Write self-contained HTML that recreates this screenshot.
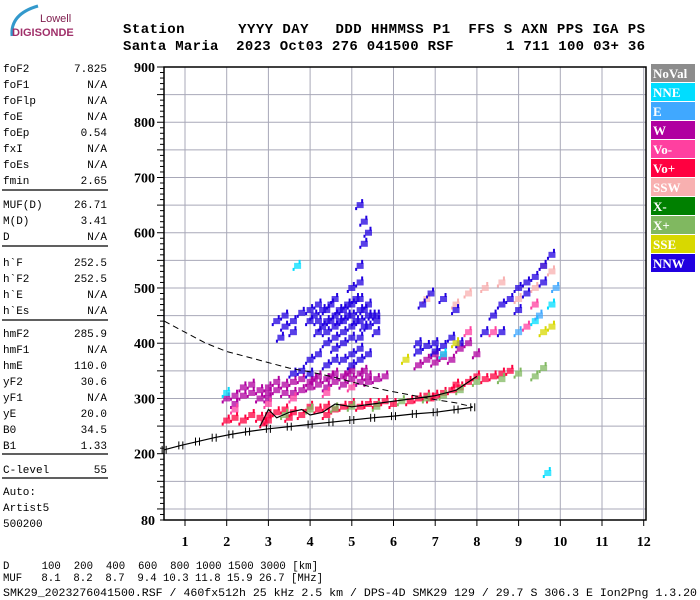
<!DOCTYPE html>
<html><head><meta charset="utf-8"><style>
body{margin:0;width:700px;height:600px;background:#fff;overflow:hidden;font-family:"Liberation Mono",monospace}
svg{position:absolute;left:0;top:0}
</style></head><body>
<svg width="700" height="600" xmlns="http://www.w3.org/2000/svg">
<g>
<path d="M12,36 Q10,14 38,6" stroke="#3399cc" stroke-width="3" fill="none"/>
<text x="40" y="22" font-family="Liberation Sans,sans-serif" font-size="11" fill="#802050">Lowell</text>
<text x="12" y="36" font-family="Liberation Sans,sans-serif" font-size="11" fill="#a0306a" font-weight="bold">DIGISONDE</text>
</g>
<g font-family="Liberation Mono,monospace" font-weight="bold" font-size="14">
<text x="123" y="33" xml:space="preserve" textLength="522" lengthAdjust="spacing">Station      YYYY DAY   DDD HHMMSS P1  FFS S AXN PPS IGA PS</text>
<text x="123" y="50" xml:space="preserve" textLength="522" lengthAdjust="spacing">Santa Maria  2023 Oct03 276 041500 RSF      1 711 100 03+ 36</text>
</g>
<g id="left" font-family="Liberation Mono,monospace" font-size="11"></g>
<g id="plot"></g>
<g id="legend"></g>
<g font-family="Liberation Mono,monospace" font-size="11">
<text x="3" y="569" xml:space="preserve" textLength="315" lengthAdjust="spacingAndGlyphs">D     100  200  400  600  800 1000 1500 3000 [km]</text>
<text x="3" y="581" xml:space="preserve" textLength="320" lengthAdjust="spacingAndGlyphs">MUF   8.1  8.2  8.7  9.4 10.3 11.8 15.9 26.7 [MHz]</text>
<text x="3" y="596" xml:space="preserve" font-size="11" textLength="694" lengthAdjust="spacingAndGlyphs">SMK29_2023276041500.RSF / 460fx512h 25 kHz 2.5 km / DPS-4D SMK29 129 / 29.7 S 306.3 E Ion2Png 1.3.20</text>
</g>
</svg>
<script>
const NS="http://www.w3.org/2000/svg";
const paramNames=["foF2","foF1","foFlp","foE","foEp","fxI","foEs","fmin","MUF(D)","M(D)","D","h`F","h`F2","h`E","h`Es","hmF2","hmF1","hmE","yF2","yF1","yE","B0","B1","C-level"];
const paramValues=["7.825","N/A","N/A","N/A","0.54","N/A","N/A","2.65","26.71","3.41","N/A","252.5","252.5","N/A","N/A","285.9","N/A","110.0","30.6","N/A","20.0","34.5","1.33","55"];
const freqTicks=[1,2,3,4,5,6,7,8,9,10,11,12];
const heightTicks=[80,200,300,400,500,600,700,800,900];
const legendNames=["NoVal","NNE","E","W","Vo-","Vo+","SSW","X-","X+","SSE","NNW"];
const legendColors=["#8c8c8c","#00ddff","#40a8ff","#b000a0","#ff40a0","#ff0040","#f8b0b0","#008000","#80b860","#d8d800","#2000e0"];
const nnwPoints=[[3.2,440],[3.4,430],[3.4,450],[3.6,440],[3.6,420],[3.8,455],[3.3,410],[4.0,440],[4.0,460],[4.2,440],[4.2,420],[4.2,470],[4.4,440],[4.4,460],[4.4,420],[4.6,450],[4.6,430],[4.6,480],[4.8,440],[4.8,460],[4.8,420],[5.0,450],[5.0,430],[5.0,470],[5.0,500],[5.2,440],[5.2,460],[5.2,480],[5.2,510],[5.2,540],[5.4,450],[5.4,430],[5.4,470],[5.6,440],[5.6,450],[4.0,370],[4.2,380],[4.4,360],[4.6,370],[4.6,390],[4.8,370],[4.8,400],[5.0,380],[5.0,360],[5.2,390],[5.2,370],[5.2,410],[5.4,380],[4.4,400],[3.8,350],[3.6,345],[4.0,345],[5.0,410],[4.6,410],[5.3,580],[5.3,620],[5.2,650],[5.4,600],[5.6,420],[6.6,385],[6.8,395],[7.0,385],[7.2,395],[6.6,400],[7.0,400],[7.4,410],[7.6,400],[6.7,470],[6.9,490],[7.2,480],[7.5,460],[8.2,420],[8.4,450],[8.6,470],[8.8,480],[9.0,500],[9.2,510],[9.4,520],[9.6,540],[9.8,560],[8.6,420],[9.0,460],[9.2,490],[9.6,510],[4.3,430],[4.5,440],[4.7,460],[4.9,450],[5.1,440],[5.3,460],[4.1,450],[4.3,460],[4.5,470],[4.7,440],[4.9,470],[5.1,480],[5.3,430],[5.5,450]];
const wPoints=[[2.0,300],[2.2,305],[2.4,305],[2.6,310],[2.8,300],[2.8,315],[3.0,310],[3.0,320],[3.2,315],[3.4,310],[3.4,325],[3.6,310],[3.6,330],[3.8,315],[3.8,335],[4.0,320],[4.0,330],[4.2,325],[4.2,340],[4.4,320],[4.4,335],[4.6,330],[4.6,345],[4.8,325],[4.8,340],[5.0,335],[5.0,350],[5.2,330],[5.2,345],[5.4,340],[5.4,330],[5.6,335],[2.6,325],[3.2,330],[2.2,290],[6.6,360],[6.8,370],[7.0,365],[7.2,375],[7.4,370],[7.6,390],[7.8,400],[8.0,380],[7.0,380],[5.8,340],[2.4,320],[3.0,300],[4.1,335],[4.5,340],[4.9,345],[5.3,350]];
const voPlusPoints=[[2.0,260],[2.2,265],[2.4,260],[2.6,270],[2.8,265],[3.0,270],[3.0,260],[3.2,275],[3.4,280],[3.6,275],[3.8,270],[4.0,285],[4.2,280],[4.4,285],[4.6,280],[4.8,285],[5.0,290],[5.2,285],[5.4,290],[5.6,290],[5.8,295],[6.0,290],[6.4,295],[6.6,300],[6.8,305],[7.0,305],[7.2,310],[7.4,315],[7.6,320],[7.8,330],[8.0,340],[8.2,335],[8.4,340],[8.6,345],[8.8,350],[2.9,255],[3.5,265],[4.4,270],[6.9,300],[7.5,325]];
const xPlusPoints=[[4.0,280],[4.6,282],[5.0,285],[5.6,285],[6.2,295],[6.8,300],[7.2,305],[7.6,315],[8.0,330],[8.6,335],[9.0,345],[9.4,340],[9.6,355],[3.4,270]];
const voMinusPoints=[[2.2,280],[3.0,290],[3.6,300],[4.4,310],[5.0,320],[7.2,380],[7.8,420],[8.4,420],[9.2,430],[9.4,470]];
const sswPoints=[[7.5,470],[7.8,490],[8.2,500],[8.6,510],[9.0,480],[9.4,500],[9.8,530],[6.8,480],[9.6,540]];
const nnePoints=[[9.4,440],[9.8,470],[3.7,540],[7.2,380],[9.7,165],[2.0,310]];
const ssePoints=[[7.5,400],[9.6,420],[9.8,430],[6.3,370]];
const ePoints=[[9.0,420],[9.5,450],[9.9,500]];
const mufCurve=[[0.5,440],[1,420],[1.5,400],[2,385],[2.5,375],[3,365],[3.5,355],[4,348],[4.5,340],[5,330],[5.5,320],[6,312],[6.5,305],[7,298],[7.5,292],[7.9,285]];
const hPrimeTrace=[[0.5,207],[0.9,215],[1.3,222],[1.7,229],[2.1,235],[2.5,240],[3,245],[3.5,249],[4,253],[4.5,257],[5,261],[5.5,265],[6,268],[6.5,272],[7,275],[7.5,280],[7.9,284]];
const profileTrace=[[2.8,250],[3.0,280],[3.2,265],[3.5,275],[3.8,280],[4.0,270],[4.3,275],[4.6,290],[5.0,285],[5.5,290],[6.0,295],[6.5,300],[7.0,305],[7.5,315],[7.8,330],[8.0,340]];

const X0=164,X1=646,Y0=67,Y1=520;
const fx=f=>185+(f-1)*41.7;
const hy=h=>Y1-(h-80)*(Y1-Y0)/820;
function mk(tag,attrs,parent,txt){const e=document.createElementNS(NS,tag);for(const k in attrs)e.setAttribute(k,attrs[k]);if(txt!==undefined)e.textContent=txt;parent.appendChild(e);return e;}

const L=document.getElementById('left');
const rowY=[68,84,100,116,132,148,164,180,204,220,236,262,278,294,310,333,349,365,381,397,413,429,445,469];
paramNames.forEach((n,i)=>{
  const t=mk('text',{x:3,y:rowY[i]+4},L,n);
  
  
  const v=mk('text',{x:107,y:rowY[i]+4,'text-anchor':'end'},L,paramValues[i]);
  
  
});
[190,246,320,454,478].forEach(y=>mk('line',{x1:2,x2:108,y1:y,y2:y,stroke:'#000','stroke-width':1.2},L));
["Auto:","Artist5","500200"].forEach((s,i)=>mk('text',{x:3,y:495+i*16},L,s));

const P=document.getElementById('plot');
for(let h=100;h<900;h+=50){mk('line',{x1:X0,x2:X1,y1:hy(h),y2:hy(h),stroke:'#a8a8b8','stroke-width':1},P);}
freqTicks.forEach(f=>{if(fx(f)<X1)mk('line',{x1:fx(f),x2:fx(f),y1:Y0,y2:Y1,stroke:'#a8a8b8','stroke-width':1},P);});
mk('rect',{x:X0,y:Y0,width:X1-X0,height:Y1-Y0,fill:'none',stroke:'#000','stroke-width':1.5},P);
for(let h=80;h<=900;h+=10){const big=h%50===0;mk('line',{x1:X0-(big?7:4),x2:X0,y1:hy(h),y2:hy(h),stroke:'#000'},P);}
heightTicks.forEach(h=>{const t=mk('text',{x:X0-9,y:hy(h)+5,'text-anchor':'end','font-family':'Liberation Serif,serif','font-weight':'bold','font-size':14},P,h);
});
freqTicks.forEach(f=>{mk('line',{x1:fx(f),x2:fx(f),y1:Y1,y2:Y1+6,stroke:'#000'},P);
const t=mk('text',{x:fx(f),y:Y1+26,'text-anchor':'middle','font-family':'Liberation Serif,serif','font-weight':'bold','font-size':14},P,f);
});
function scatter(pts,color,name){const g=mk('g',{},P);
pts.forEach(p=>{mk('rect',{x:fx(p[0])-3.5,y:hy(p[1])-3,width:7,height:6,fill:color,opacity:0.75},g);
mk('rect',{x:fx(p[0])+1,y:hy(p[1])-6,width:2,height:4,fill:color},g);
mk('rect',{x:fx(p[0])-5,y:hy(p[1])+2,width:2,height:3,fill:color},g);});}
scatter(voPlusPoints,legendColors[5],'series-vo-plus');
scatter(xPlusPoints,legendColors[8],'series-x-plus');
scatter(wPoints,legendColors[3],'series-w');
scatter(voMinusPoints,legendColors[4],'series-vo-minus');
scatter(sswPoints,legendColors[6],'series-ssw');
scatter(nnwPoints,legendColors[10],'series-nnw');
scatter(nnePoints,legendColors[1],'series-nne');
scatter(ssePoints,legendColors[9],'series-sse');
scatter(ePoints,legendColors[2],'series-e');
const pl=a=>a.map(p=>fx(p[0]).toFixed(1)+','+hy(p[1]).toFixed(1)).join(' ');
const m=mk('polyline',{points:pl(mufCurve),fill:'none',stroke:'#000','stroke-dasharray':'6,4','stroke-width':1},P);

const hp=mk('polyline',{points:pl(hPrimeTrace),fill:'none',stroke:'#000','stroke-width':1.2},P);

hPrimeTrace.forEach(p=>{const x=fx(p[0]),y=hy(p[1]);mk('line',{x1:x-2,x2:x-2,y1:y-4,y2:y+4,stroke:'#000'},P);mk('line',{x1:x+2,x2:x+2,y1:y-4,y2:y+4,stroke:'#000'},P);});
const pt=mk('polyline',{points:pl(profileTrace),fill:'none',stroke:'#000','stroke-width':1.2},P);


const G=document.getElementById('legend');
legendNames.forEach((n,i)=>{const y=64+i*19;
const r=mk('rect',{x:651,y:y,width:44,height:18,fill:legendColors[i]},G);

mk('text',{x:653,y:y+14,fill:'#fff','font-family':'Liberation Serif,serif','font-weight':'bold','font-size':13},G,n);});
</script>
</body></html>
